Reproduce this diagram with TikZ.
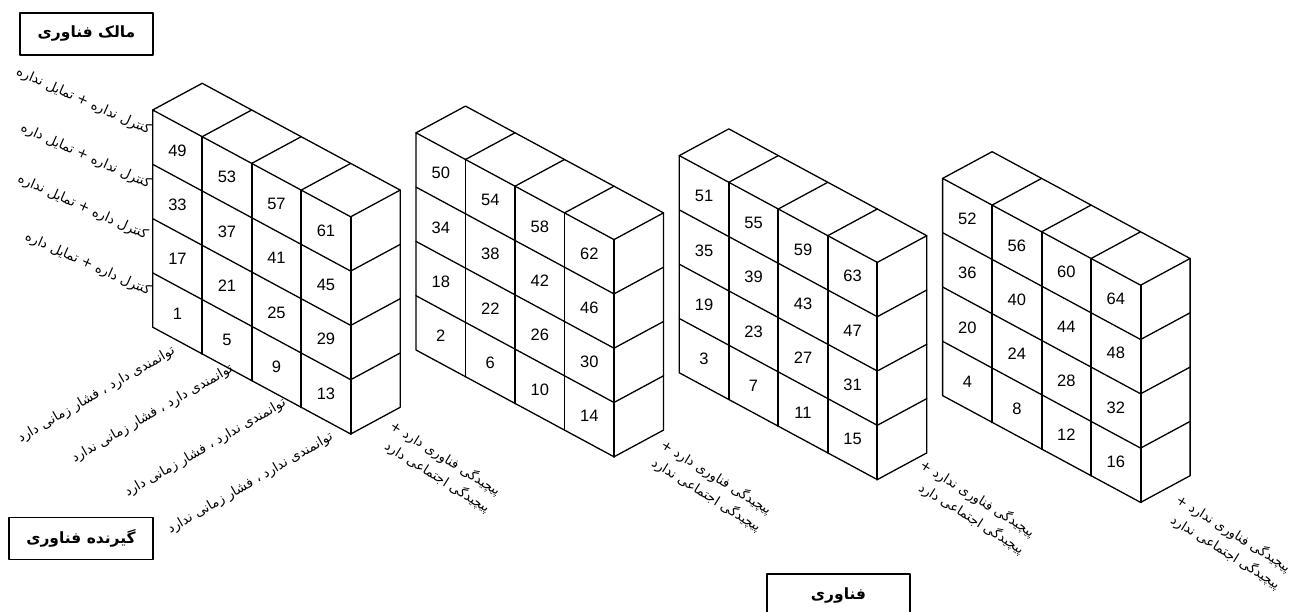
\documentclass[tikz,border=0pt]{standalone}
\usepackage{fontspec}
\setmainfont{Liberation Sans}
\newfontfamily\fa[Script=Arabic]{DejaVu Sans}
\TeXXeTstate=1
\begin{document}
\begin{tikzpicture}[x=1pt,y=-1pt,line join=round,line cap=round,
  edge/.style={line width=1.3pt},
  colline/.style={line width=1.9pt},
  num/.style={font=\fontsize{16.5}{17}\selectfont,inner sep=0pt},
  rowlab/.style={font=\fa\fontsize{13.4}{15}\selectfont,rotate=-24,anchor=east,inner sep=0pt},
  collab/.style={font=\fa\fontsize{13.4}{15}\selectfont,rotate=30,anchor=east,inner sep=0pt},
  blocklab/.style={font=\fa\fontsize{13.2}{20}\selectfont,rotate=-32,align=right,inner sep=0pt},
  titlebox/.style={draw,line width=1.3pt,minimum height=42pt,inner sep=0pt,font=\fa\bfseries\fontsize{15.5}{17}\selectfont}
]
\useasboundingbox (0,0) rectangle (1303,612);
\fill[white] (0,0) rectangle (1303,612);

% blocks
\foreach \b in {1,...,4}{
  \pgfmathsetmacro\ox{152.7+(\b-1)*263.3}
  \pgfmathsetmacro\oy{110+(\b-1)*22.8}
  \begin{scope}[shift={(\ox,\oy)}]
    % top face
    \draw[edge] (0,0) -- (49.5,-26.7) -- (247.5,80.1) -- (198,106.8);
    \foreach \k in {1,2,3}
      \draw[edge] ({49.5*\k},{26.7*\k}) -- ({49.5*\k+49.5},{26.7*\k-26.7});
    % front face
    \draw[edge] (198,106.8) -- (0,0) -- (0,217.2) -- (198,324);
    \foreach \i in {1,2,3}
      \draw[edge] (0,{54.3*\i}) -- (198,{106.8+54.3*\i});
    \foreach \k in {1,2,3}
      \draw[colline] ({49.5*\k},{26.7*\k}) -- ({49.5*\k},{26.7*\k+217.2});
    \draw[colline] (198,106.8) -- (198,324);
    % right face
    \draw[edge] (247.5,80.1) -- (247.5,297.3) -- (198,324);
    \foreach \i in {1,2,3}
      \draw[edge] (198,{106.8+54.3*\i}) -- (247.5,{80.1+54.3*\i});
    % numbers
    \foreach \j in {0,1,2,3}{
      \foreach \i in {0,1,2,3}{
        \pgfmathtruncatemacro\num{\b+4*\j+16*(3-\i)}
        \node[num] (n\num) at ({49.5*(\j+0.5)},{26.7*(\j+0.5)+54.3*(\i+0.5)}) {\num};
      }
    }
  \end{scope}
}

% row labels
\node[rowlab] (r1) at (150,131) {\beginR کنترل نداره + تمایل نداره\endR};
\node[rowlab] (r2) at (150,185) {\beginR کنترل نداره + تمایل داره\endR};
\node[rowlab] (r3) at (147,236) {\beginR کنترل داره + تمایل نداره\endR};
\node[rowlab] (r4) at (150,292) {\beginR کنترل داره + تمایل داره\endR};

% column labels
\node[collab] (c1) at (174,350) {\beginR توانمندی دارد ، فشار زمانی دارد\endR};
\node[collab] (c2) at (232,368) {\beginR توانمندی دارد ، فشار زمانی ندارد\endR};
\node[collab] (c3) at (285,402) {\beginR توانمندی ندارد ، فشار زمانی دارد\endR};
\node[collab] (c4) at (332,436) {\beginR توانمندی ندارد ، فشار زمانی ندارد\endR};

% block labels
\node[blocklab] (b1) at (440,467) {\beginR پیچیدگی فناوری دارد +\endR\\\beginR پیچیدگی اجتماعی دارد\endR};
\node[blocklab] (b2) at (711,486) {\beginR پیچیدگی فناوری دارد +\endR\\\beginR پیچیدگی اجتماعی ندارد\endR};
\node[blocklab] (b3) at (972,507) {\beginR پیچیدگی فناوری ندارد +\endR\\\beginR پیچیدگی اجتماعی دارد\endR};
\node[blocklab] (b4) at (1228,542) {\beginR پیچیدگی فناوری ندارد +\endR\\\beginR پیچیدگی اجتماعی ندارد\endR};

% title boxes
\node[titlebox,minimum width=133pt] (owner) at (86.5,34) {\beginR مالک فناوری\endR};
\node[titlebox,minimum width=144pt] (receiver) at (81,538.5) {\beginR گیرنده فناوری\endR};
\node[titlebox,minimum width=143pt] (tech) at (838.5,595) {\beginR فناوری\endR};
\end{tikzpicture}
\end{document}
